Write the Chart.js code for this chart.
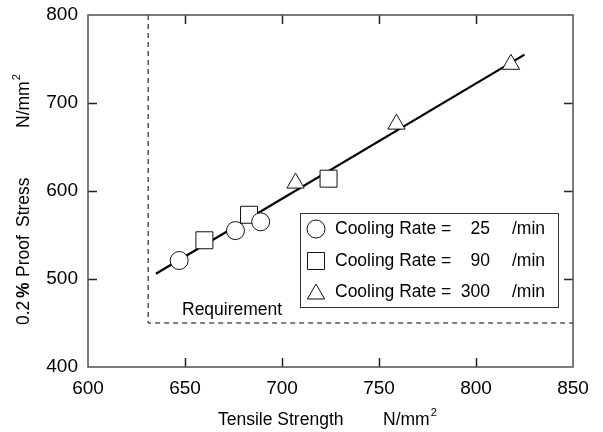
<!DOCTYPE html>
<html>
<head>
<meta charset="utf-8">
<script src="https://cdn.jsdelivr.net/npm/chart.js@4/dist/chart.umd.min.js"></script>
<style>
html,body{margin:0;padding:0;background:#fff;}
#wrap{position:relative;width:603px;height:432px;}
</style>
</head>
<body>
<div id="wrap"><canvas id="c" width="603" height="432"></canvas></div>
<script>
// ---- data ----
const circleX = [647, 676, 689];
const circleY = [521, 555, 565];
const squareX = [660, 683, 724];
const squareY = [544, 573, 614];
const triX = [707, 759, 818];
const triY = [609, 676, 744];
const fitX = [635, 825];
const fitY = [506, 755];
const reqX = [631, 631, 850];
const reqY = [800, 450, 450];
const xTicks = [600, 650, 700, 750, 800, 850];
const yTicks = [400, 500, 600, 700, 800];
const legendRates = ['25', '90', '300'];
const legendPrefix = 'Cooling Rate =';
const legendUnit = '/min';
const requirementLabel = 'Requirement';

const FONT = '"Liberation Sans", Arial, Helvetica, sans-serif';
const pts = (xs, ys) => xs.map((x, i) => ({x, y: ys[i]}));

const markerStyles = [
  {pointStyle: 'circle', radius: 9},
  {pointStyle: 'rect', radius: 12},
  {pointStyle: 'triangle', radius: 10}
];

const frameAndDeco = {
  id: 'frameAndDeco',
  afterDraw(chart) {
    const ctx = chart.ctx;
    const a = chart.chartArea;
    const xs = chart.scales.x, ys = chart.scales.y;
    ctx.save();
    // ticks inside
    ctx.strokeStyle = '#222';
    ctx.lineWidth = 1.5;
    ctx.beginPath();
    xTicks.slice(1, -1).forEach(v => {
      const px = Math.round(xs.getPixelForValue(v)) + 0.5;
      ctx.moveTo(px, a.bottom); ctx.lineTo(px, a.bottom - 9);
      ctx.moveTo(px, a.top); ctx.lineTo(px, a.top + 9);
    });
    yTicks.slice(1, -1).forEach(v => {
      const py = Math.round(ys.getPixelForValue(v)) + 0.5;
      ctx.moveTo(a.left, py); ctx.lineTo(a.left + 9, py);
      ctx.moveTo(a.right, py); ctx.lineTo(a.right - 9, py);
    });
    ctx.stroke();
    // frame
    ctx.strokeStyle = '#5a5a5a';
    ctx.lineWidth = 1.6;
    ctx.strokeRect(a.left, a.top, a.right - a.left, a.bottom - a.top);

    // requirement label
    ctx.fillStyle = '#000';
    ctx.font = '17.5px ' + FONT;
    ctx.textBaseline = 'middle';
    ctx.textAlign = 'left';
    ctx.fillText(requirementLabel, 182, 310);

    // legend box
    const bx = 300, by = 213, bw = 258, bh = 94;
    ctx.fillStyle = '#fff';
    ctx.fillRect(bx, by, bw, bh);
    ctx.strokeStyle = '#333';
    ctx.lineWidth = 1;
    ctx.strokeRect(bx + 0.5, by + 0.5, bw, bh);
    const rowY = [229, 261, 292];
    legendRates.forEach((r, i) => {
      const ms = markerStyles[i];
      ctx.fillStyle = '#fff';
      ctx.strokeStyle = '#111';
      ctx.lineWidth = 1;
      Chart.helpers.drawPoint(ctx, {pointStyle: ms.pointStyle, radius: ms.radius, rotation: 0, borderWidth: 1}, 316, rowY[i] + (ms.pointStyle === 'triangle' ? 2 : 0));
      ctx.fillStyle = '#000';
      ctx.font = '17.5px ' + FONT;
      ctx.textAlign = 'left';
      ctx.fillText(legendPrefix, 335, rowY[i]);
      ctx.textAlign = 'right';
      ctx.fillText(r, 490, rowY[i]);
      ctx.textAlign = 'left';
      ctx.fillText(legendUnit, 512, rowY[i]);
    });

    // x axis title
    ctx.fillStyle = '#000';
    ctx.font = '17.5px ' + FONT;
    ctx.textAlign = 'left';
    ctx.textBaseline = 'alphabetic';
    ctx.fillText('Tensile Strength', 218, 425);
    ctx.fillText('N/mm', 383, 425);
    let w = ctx.measureText('N/mm').width;
    ctx.font = '11px ' + FONT;
    ctx.fillText('2', 383 + w + 1, 416);

    // y axis title (rotated)
    ctx.translate(29, 325);
    ctx.rotate(-Math.PI / 2);
    const pieces = [
      {t: '0.2', at: 0, bold: false},
      {t: '%', at: 27, bold: true},
      {t: 'Proof', at: 48, bold: false},
      {t: 'Stress', at: 98, bold: false},
      {t: 'N/mm', at: 197, bold: false}
    ];
    pieces.forEach(p => {
      ctx.font = (p.bold ? 'bold ' : '') + '17.5px ' + FONT;
      ctx.fillText(p.t, p.at, 0);
    });
    ctx.font = '17.5px ' + FONT;
    w = ctx.measureText('N/mm').width;
    ctx.font = '11px ' + FONT;
    ctx.fillText('2', 197 + w + 1, -9);
    ctx.restore();
  }
};

const markerDataset = (label, xs, ys, ms) => ({
  label,
  type: 'scatter',
  data: pts(xs, ys),
  pointStyle: ms.pointStyle,
  pointRadius: ms.radius,
  pointHoverRadius: ms.radius,
  pointBackgroundColor: '#fff',
  pointBorderColor: '#111',
  pointBorderWidth: 1,
  showLine: false,
  order: 1
});

new Chart(document.getElementById('c'), {
  type: 'scatter',
  data: {
    datasets: [
      markerDataset('25', circleX, circleY, markerStyles[0]),
      markerDataset('90', squareX, squareY, markerStyles[1]),
      markerDataset('300', triX, triY, markerStyles[2]),
      {
        label: 'fit', data: pts(fitX, fitY), showLine: true,
        borderColor: '#000', borderWidth: 2.2, pointRadius: 0, order: 5
      },
      {
        label: 'req', data: pts(reqX, reqY), showLine: true,
        borderColor: '#000', borderWidth: 1, borderDash: [5, 4], pointRadius: 0, order: 6
      }
    ]
  },
  options: {
    responsive: false,
    animation: false,
    events: [],
    layout: {padding: {top: 15, right: 30, left: 0, bottom: 0}},
    plugins: {legend: {display: false}, tooltip: {enabled: false}},
    scales: {
      x: {
        type: 'linear', min: 600, max: 850,
        afterBuildTicks: s => { s.ticks = xTicks.map(v => ({value: v})); },
        grid: {display: false, drawTicks: false},
        border: {display: false},
        ticks: {color: '#000', font: {family: FONT, size: 19}, padding: 10, maxRotation: 0},
        afterFit: s => { s.height = 65; s.paddingLeft = 0; s.paddingRight = 0; }
      },
      y: {
        type: 'linear', min: 400, max: 800,
        afterBuildTicks: s => { s.ticks = yTicks.map(v => ({value: v})); },
        grid: {display: false, drawTicks: false},
        border: {display: false},
        ticks: {color: '#000', font: {family: FONT, size: 19}, padding: 10},
        afterFit: s => { s.width = 88; s.paddingTop = 0; s.paddingBottom = 0; }
      }
    }
  },
  plugins: [frameAndDeco]
});
</script>
</body>
</html>
